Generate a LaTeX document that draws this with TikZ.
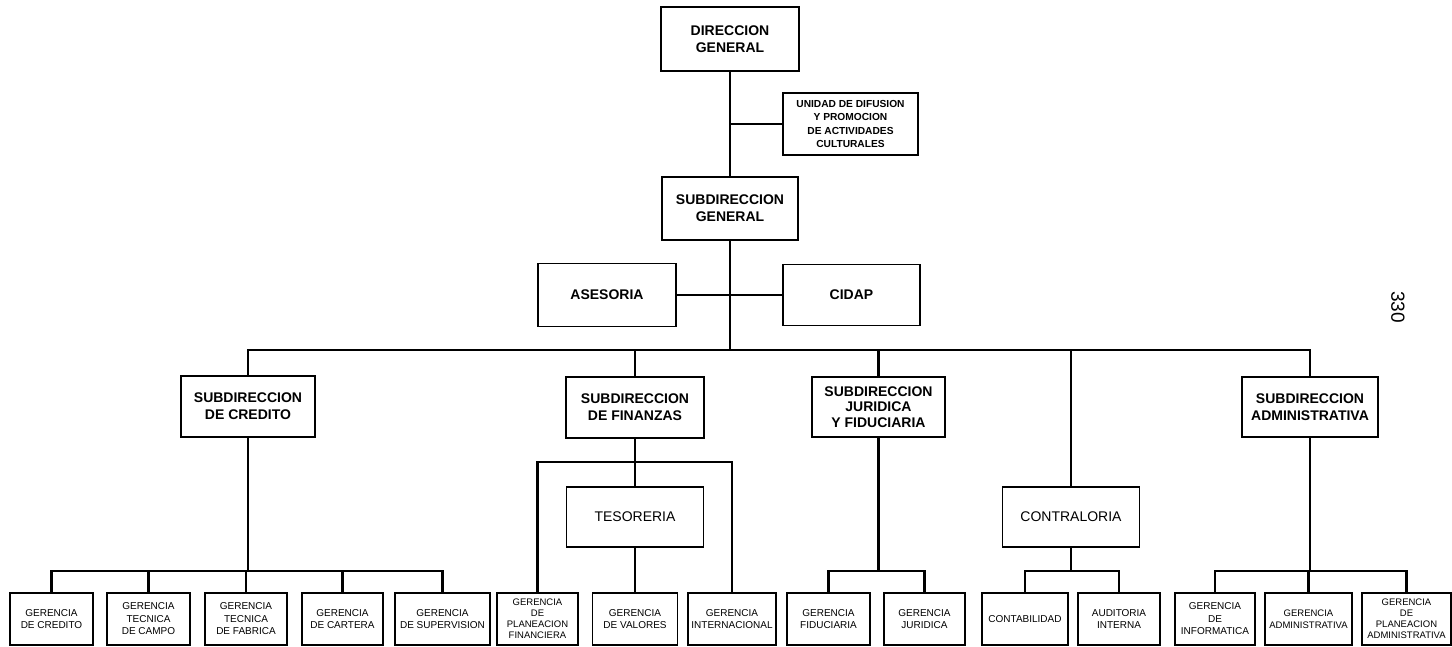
\documentclass[tikz,border=0pt]{standalone}
\usepackage{fontspec}
\setmainfont{Liberation Sans}
\begin{document}
\begin{tikzpicture}[x=1pt,y=-1pt,
  box/.style={draw, line width=1.5pt, align=center, inner sep=1pt, font=\bfseries\fontsize{14}{17}\selectfont},
  lbox/.style={draw, line width=1.5pt, align=center, inner sep=1pt, font=\fontsize{14}{16}\selectfont},
  gbox/.style={draw, line width=1.4pt, align=center, inner sep=0pt, minimum height=52, font=\fontsize{10}{12.5}\selectfont},
  gbox4/.style={gbox, font=\fontsize{9.5}{11}\selectfont},
  link/.style={line width=2.8pt}]
\useasboundingbox (0,0) rectangle (1452,646);

% top levels
\node[box, minimum width=138, minimum height=64] (dg) at (730,39) {DIRECCION\\GENERAL};
\node[box, minimum width=135, minimum height=62, font=\bfseries\fontsize{10.2}{13.5}\selectfont] (unidad) at (850.5,124) {UNIDAD DE DIFUSION\\Y PROMOCION\\DE ACTIVIDADES\\CULTURALES};
\node[box, minimum width=136, minimum height=63] (sg) at (730,208.5) {SUBDIRECCION\\GENERAL};
\node[box, minimum width=138, minimum height=63] (ases) at (607,295) {ASESORIA};
\node[box, minimum width=137, minimum height=61] (cidap) at (851.5,295) {CIDAP};

% subdirecciones
\node[box, minimum width=134, minimum height=61] (cred) at (248,406.5) {SUBDIRECCION\\DE CREDITO};
\node[box, minimum width=138, minimum height=61] (fin) at (635,407.5) {SUBDIRECCION\\DE FINANZAS};
\node[box, minimum width=133, minimum height=60, font=\bfseries\fontsize{14}{15.5}\selectfont] (jur) at (878.5,407) {SUBDIRECCION\\JURIDICA\\Y FIDUCIARIA};
\node[lbox, minimum width=137, minimum height=60] (contra) at (1071,517) {CONTRALORIA};
\node[lbox, minimum width=137, minimum height=60] (tes) at (635,517) {TESORERIA};
\node[box, minimum width=136, minimum height=60] (adm) at (1310,407) {SUBDIRECCION\\ADMINISTRATIVA};

% gerencias
\node[gbox, minimum width=83] (g1) at (51.5,619) {GERENCIA\\DE CREDITO};
\node[gbox, minimum width=83] (g2) at (148.5,619) {GERENCIA\\TECNICA\\DE CAMPO};
\node[gbox, minimum width=82] (g3) at (246,619) {GERENCIA\\TECNICA\\DE FABRICA};
\node[gbox, minimum width=81] (g4) at (342.5,619) {GERENCIA\\DE CARTERA};
\node[gbox, minimum width=95] (g5) at (442.5,619) {GERENCIA\\DE SUPERVISION};
\node[gbox4, minimum width=81] (g6) at (537.5,619) {GERENCIA\\DE\\PLANEACION\\FINANCIERA};
\node[gbox, minimum width=85] (g7) at (635,619) {GERENCIA\\DE VALORES};
\node[gbox, minimum width=88] (g8) at (732,619) {GERENCIA\\INTERNACIONAL};
\node[gbox, minimum width=83] (g9) at (828.5,619) {GERENCIA\\FIDUCIARIA};
\node[gbox, minimum width=81] (g10) at (924.5,619) {GERENCIA\\JURIDICA};
\node[gbox, minimum width=86] (g11) at (1025,619) {CONTABILIDAD};
\node[gbox, minimum width=82] (g12) at (1119,619) {AUDITORIA\\INTERNA};
\node[gbox, minimum width=80] (g13) at (1215,619) {GERENCIA\\DE\\INFORMATICA};
\node[gbox, minimum width=87, font=\fontsize{9.5}{12.5}\selectfont] (g14) at (1308.5,619) {GERENCIA\\ADMINISTRATIVA};
\node[gbox4, minimum width=89] (g15) at (1406.5,619) {GERENCIA\\DE\\PLANEACION\\ADMINISTRATIVA};

% page number
\node[rotate=-90, font=\fontsize{19}{19}\selectfont] (pg) at (1398,307) {330};

% connectors
\draw[link] (dg.south) -- (sg.north);
\draw[link] (unidad.west) -- (unidad.west -| dg.south);
\draw[link] (ases.east) -- (cidap.west);
\coordinate (mb) at (730,350);
\draw[link] (sg.south) -- (mb);
\draw[link] (cred.north) |- (mb) -| (adm.north);
\foreach \n in {fin,jur,contra} \draw[link] (\n.north) -- (\n.north |- mb);

\coordinate (cb) at (248,571);
\draw[link] (cred.south) -- (cb);
\draw[link] (g1.north) |- (cb) -| (g5.north);
\foreach \n in {g2,g3,g4} \draw[link] (\n.north) -- (\n.north |- cb);

\coordinate (fb) at (635,462);
\draw[link] (fin.south) -- (tes.north);
\draw[link] (g6.north) |- (fb) -| (g8.north);
\draw[link] (tes.south) -- (g7.north);

\coordinate (jb) at (878.5,571);
\draw[link] (jur.south) -- (jb);
\draw[link] (g9.north) |- (jb) -| (g10.north);

\coordinate (ctb) at (1071,571);
\draw[link] (contra.south) -- (ctb);
\draw[link] (g11.north) |- (ctb) -| (g12.north);

\coordinate (ab) at (1310,571);
\draw[link] (adm.south) -- (ab);
\draw[link] (g13.north) |- (ab) -| (g15.north);
\draw[link] (g14.north) -- (g14.north |- ab);
\end{tikzpicture}
\end{document}
